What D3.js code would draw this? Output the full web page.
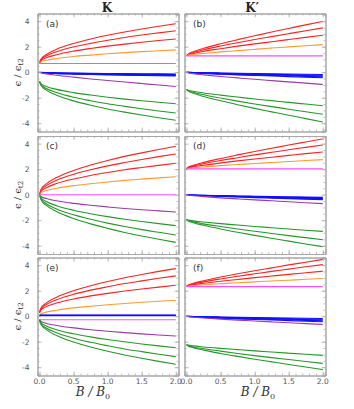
<!DOCTYPE html>
<html>
<head>
<meta charset="utf-8">
<script src="https://cdn.jsdelivr.net/npm/d3@7"></script>
<style>
  body { margin: 0; background: #fff; }
  svg { display: block; }
</style>
</head>
<body>
<div id="chart"></div>
<script>
// magnetic field grid shared by all curves
const bField = [0, 0.02, 0.1, 0.25, 0.5, 0.75, 1, 1.25, 1.5, 1.75, 2];

const xTicks = [0, 0.5, 1, 1.5, 2];
const yTicks = [-4, -2, 0, 2, 4];
const columnTitles = ["K", "K\u2032"];
const panelLabels = ["(a)", "(b)", "(c)", "(d)", "(e)", "(f)"];

// panel (a)
const panelA = {
  red: [
    [0.7, 1.01, 1.39, 1.80, 2.25, 2.60, 2.89, 3.15, 3.38, 3.60, 3.8],
    [0.7, 0.96, 1.27, 1.60, 1.98, 2.26, 2.50, 2.72, 2.91, 3.08, 3.25],
    [0.7, 0.89, 1.13, 1.37, 1.65, 1.86, 2.04, 2.20, 2.35, 2.48, 2.6]
  ],
  orange: [[0.7, 0.81, 0.94, 1.07, 1.23, 1.34, 1.44, 1.53, 1.61, 1.68, 1.75]],
  magenta: [[0.68, 0.68, 0.68, 0.68, 0.68, 0.68, 0.68, 0.68, 0.68, 0.68, 0.68]],
  blue: [
    [0, -0.01, -0.03, -0.05, -0.07, -0.09, -0.10, -0.11, -0.12, -0.13, -0.14],
    [0, -0.02, -0.04, -0.06, -0.09, -0.11, -0.13, -0.14, -0.16, -0.17, -0.18],
    [0, -0.02, -0.05, -0.08, -0.11, -0.13, -0.16, -0.17, -0.19, -0.21, -0.22],
    [0, -0.03, -0.06, -0.09, -0.13, -0.16, -0.18, -0.21, -0.23, -0.24, -0.26],
    [0, -0.03, -0.07, -0.11, -0.15, -0.18, -0.21, -0.24, -0.26, -0.28, -0.3]
  ],
  purple: [[0, -0.05, -0.13, -0.24, -0.39, -0.53, -0.65, -0.77, -0.89, -1.01, -1.12]],
  green: [
    [-0.73, -0.90, -1.12, -1.35, -1.60, -1.79, -1.96, -2.11, -2.24, -2.36, -2.47],
    [-0.73, -0.98, -1.28, -1.60, -1.97, -2.24, -2.48, -2.68, -2.87, -3.04, -3.2],
    [-0.73, -1.03, -1.41, -1.81, -2.25, -2.59, -2.88, -3.13, -3.36, -3.57, -3.77]
  ]
};

// panel (b)
const panelB = {
  red: [
    [1.28, 1.40, 1.60, 1.87, 2.23, 2.55, 2.85, 3.15, 3.43, 3.71, 3.98],
    [1.28, 1.38, 1.54, 1.76, 2.05, 2.31, 2.56, 2.79, 3.02, 3.25, 3.47],
    [1.28, 1.35, 1.47, 1.63, 1.84, 2.04, 2.22, 2.39, 2.56, 2.73, 2.89]
  ],
  orange: [[1.28, 1.32, 1.39, 1.47, 1.59, 1.69, 1.79, 1.89, 1.98, 2.07, 2.16]],
  magenta: [[1.28, 1.28, 1.28, 1.28, 1.28, 1.28, 1.28, 1.28, 1.28, 1.28, 1.28]],
  blue: [
    [0, -0.01, -0.02, -0.04, -0.06, -0.08, -0.10, -0.12, -0.14, -0.16, -0.18],
    [0, -0.01, -0.03, -0.05, -0.08, -0.11, -0.14, -0.17, -0.19, -0.22, -0.24],
    [0, -0.01, -0.04, -0.07, -0.11, -0.14, -0.17, -0.21, -0.24, -0.27, -0.30],
    [0, -0.02, -0.04, -0.08, -0.13, -0.17, -0.22, -0.26, -0.29, -0.33, -0.37],
    [0, -0.02, -0.05, -0.10, -0.15, -0.21, -0.26, -0.30, -0.35, -0.40, -0.44]
  ],
  purple: [[0, -0.04, -0.12, -0.21, -0.34, -0.45, -0.56, -0.66, -0.76, -0.86, -0.96]],
  green: [
    [-1.35, -1.41, -1.50, -1.63, -1.80, -1.95, -2.10, -2.23, -2.37, -2.50, -2.63],
    [-1.35, -1.44, -1.58, -1.77, -2.03, -2.27, -2.49, -2.70, -2.90, -3.10, -3.3],
    [-1.35, -1.47, -1.66, -1.90, -2.24, -2.55, -2.84, -3.11, -3.38, -3.64, -3.9]
  ]
};

// panel (c)
const panelC = {
  red: [
    [0, 0.38, 0.85, 1.34, 1.90, 2.32, 2.68, 3.00, 3.28, 3.54, 3.79],
    [0, 0.32, 0.71, 1.13, 1.60, 1.95, 2.26, 2.52, 2.76, 2.98, 3.19],
    [0, 0.25, 0.55, 0.87, 1.23, 1.51, 1.74, 1.95, 2.13, 2.30, 2.46]
  ],
  orange: [[0, 0.14, 0.32, 0.50, 0.71, 0.86, 1.00, 1.12, 1.22, 1.32, 1.41]],
  magenta: [[0, 0, 0, 0, 0, 0, 0, 0, 0, 0, 0]],
  blue: [],
  purple: [[0, -0.14, -0.30, -0.48, -0.68, -0.83, -0.96, -1.08, -1.18, -1.27, -1.36]],
  green: [
    [0, -0.24, -0.54, -0.86, -1.22, -1.49, -1.72, -1.92, -2.10, -2.27, -2.43],
    [0, -0.32, -0.71, -1.12, -1.58, -1.93, -2.23, -2.50, -2.74, -2.95, -3.16],
    [0, -0.37, -0.84, -1.32, -1.87, -2.29, -2.64, -2.96, -3.24, -3.50, -3.74]
  ]
};

// panel (d)
const panelD = {
  red: [
    [2.02, 2.13, 2.30, 2.53, 2.84, 3.12, 3.39, 3.64, 3.89, 4.13, 4.37],
    [2.02, 2.11, 2.25, 2.43, 2.68, 2.90, 3.12, 3.32, 3.52, 3.71, 3.9],
    [2.02, 2.08, 2.18, 2.31, 2.49, 2.65, 2.80, 2.94, 3.08, 3.22, 3.35]
  ],
  orange: [[2.02, 2.05, 2.11, 2.18, 2.28, 2.36, 2.45, 2.52, 2.60, 2.68, 2.75]],
  magenta: [[2.02, 2.02, 2.02, 2.02, 2.02, 2.02, 2.02, 2.02, 2.02, 2.02, 2.02]],
  blue: [
    [0, -0.01, -0.03, -0.05, -0.07, -0.10, -0.12, -0.15, -0.17, -0.19, -0.21],
    [0, -0.01, -0.03, -0.05, -0.09, -0.12, -0.15, -0.17, -0.20, -0.22, -0.25],
    [0, -0.01, -0.04, -0.07, -0.11, -0.14, -0.17, -0.21, -0.24, -0.27, -0.30],
    [0, -0.02, -0.04, -0.07, -0.12, -0.16, -0.20, -0.23, -0.27, -0.31, -0.34],
    [0, -0.02, -0.05, -0.08, -0.14, -0.18, -0.23, -0.27, -0.31, -0.35, -0.39]
  ],
  purple: [[0, -0.03, -0.08, -0.15, -0.25, -0.33, -0.41, -0.48, -0.56, -0.63, -0.7]],
  green: [
    [-1.94, -1.98, -2.05, -2.14, -2.27, -2.38, -2.49, -2.59, -2.69, -2.79, -2.88],
    [-1.94, -2.01, -2.13, -2.29, -2.50, -2.69, -2.87, -3.04, -3.21, -3.37, -3.53],
    [-1.94, -2.04, -2.20, -2.40, -2.69, -2.95, -3.19, -3.42, -3.64, -3.86, -4.08]
  ]
};

// panel (e)
const panelE = {
  red: [
    [0.27, 0.62, 1.04, 1.49, 2.00, 2.39, 2.72, 3.01, 3.27, 3.51, 3.73],
    [0.27, 0.56, 0.92, 1.29, 1.72, 2.04, 2.31, 2.56, 2.77, 2.97, 3.16],
    [0.27, 0.49, 0.75, 1.03, 1.35, 1.59, 1.79, 1.97, 2.13, 2.28, 2.42]
  ],
  orange: [[0.05, 0.17, 0.32, 0.47, 0.65, 0.78, 0.90, 1.00, 1.09, 1.17, 1.25]],
  magenta: [[-0.28, -0.28, -0.28, -0.28, -0.28, -0.28, -0.28, -0.28, -0.28, -0.28, -0.28]],
  blue: [
    [0.09, 0.09, 0.09, 0.09, 0.09, 0.09, 0.09, 0.09, 0.09, 0.09, 0.09],
    [0.06, 0.06, 0.06, 0.06, 0.06, 0.06, 0.06, 0.06, 0.06, 0.06, 0.06],
    [0.03, 0.03, 0.03, 0.03, 0.03, 0.03, 0.03, 0.03, 0.03, 0.03, 0.03]
  ],
  purple: [[-0.28, -0.41, -0.57, -0.73, -0.92, -1.06, -1.18, -1.29, -1.39, -1.48, -1.56]],
  green: [
    [-0.28, -0.50, -0.77, -1.06, -1.38, -1.62, -1.83, -2.01, -2.18, -2.33, -2.47],
    [-0.28, -0.57, -0.93, -1.30, -1.73, -2.05, -2.32, -2.57, -2.78, -2.98, -3.17],
    [-0.28, -0.63, -1.06, -1.52, -2.03, -2.42, -2.75, -3.04, -3.30, -3.54, -3.77]
  ]
};

// panel (f)
const panelF = {
  red: [
    [2.32, 2.42, 2.58, 2.78, 3.07, 3.32, 3.56, 3.79, 4.02, 4.23, 4.45],
    [2.32, 2.40, 2.53, 2.69, 2.92, 3.13, 3.32, 3.51, 3.69, 3.87, 4.04],
    [2.32, 2.38, 2.46, 2.58, 2.74, 2.88, 3.02, 3.15, 3.28, 3.40, 3.52]
  ],
  orange: [[2.32, 2.35, 2.40, 2.46, 2.54, 2.62, 2.69, 2.76, 2.82, 2.89, 2.95]],
  magenta: [[2.32, 2.32, 2.32, 2.32, 2.32, 2.32, 2.32, 2.32, 2.32, 2.32, 2.32]],
  blue: [
    [0, -0.01, -0.02, -0.04, -0.06, -0.08, -0.10, -0.12, -0.14, -0.16, -0.18],
    [0, -0.01, -0.03, -0.05, -0.08, -0.11, -0.14, -0.17, -0.19, -0.22, -0.24],
    [0, -0.01, -0.04, -0.07, -0.11, -0.14, -0.17, -0.21, -0.24, -0.27, -0.30],
    [0, -0.02, -0.04, -0.08, -0.13, -0.17, -0.22, -0.26, -0.29, -0.33, -0.37],
    [0, -0.02, -0.05, -0.10, -0.15, -0.21, -0.26, -0.30, -0.35, -0.40, -0.44]
  ],
  purple: [[0, -0.03, -0.08, -0.14, -0.23, -0.31, -0.38, -0.45, -0.52, -0.58, -0.65]],
  green: [
    [-2.23, -2.27, -2.33, -2.41, -2.52, -2.62, -2.72, -2.81, -2.90, -2.99, -3.07],
    [-2.23, -2.30, -2.41, -2.55, -2.74, -2.92, -3.09, -3.25, -3.40, -3.55, -3.7],
    [-2.23, -2.32, -2.47, -2.66, -2.92, -3.15, -3.37, -3.58, -3.79, -3.99, -4.19]
  ]
};

const panels = [panelA, panelB, panelC, panelD, panelE, panelF];

// drawing order and colours of each family
const families = ["red", "orange", "magenta", "blue", "purple", "green"];
const colorOf = {
  red: "#ff2020",
  orange: "#ff9a30",
  magenta: "#ff4cff",
  blue: "#1010ff",
  purple: "#9a3aa6",
  green: "#26962a"
};

const width = 354, height = 409;
const colX = [37.5, 184.5];
const panelW = 141;
const rowY = [13.5, 136, 257.5];
const panelH = 118;

const svg = d3.select("#chart").append("svg")
  .attr("width", width)
  .attr("height", height);

const defs = svg.append("defs");
defs.append("clipPath").attr("id", "rightLabels")
  .append("rect").attr("x", 180.5).attr("y", 0).attr("width", 200).attr("height", height);

const frameColor = "#a8a8a8";
const labelColor = "#555";

// column titles
columnTitles.forEach((t, c) => {
  svg.append("text")
    .attr("x", colX[c] + panelW / 2 - (c === 0 ? 1 : 3))
    .attr("y", 11.5)
    .attr("text-anchor", "middle")
    .attr("font-family", "'DejaVu Serif', 'Liberation Serif', serif")
    .attr("font-weight", "bold")
    .attr("font-size", "12px")
    .attr("fill", "#222")
    .text(t);
});

panels.forEach((panel, i) => {
  const c = i % 2, r = Math.floor(i / 2);
  const x = d3.scaleLinear().domain([-0.03, 2.04]).range([colX[c], colX[c] + panelW]);
  const y = d3.scaleLinear().domain([-4.65, 4.6]).range([rowY[r] + panelH, rowY[r]]);

  const g = svg.append("g");

  // curves
  const clipId = "clip" + i;
  defs.append("clipPath").attr("id", clipId)
    .append("rect")
    .attr("x", colX[c]).attr("y", rowY[r])
    .attr("width", panelW).attr("height", panelH);

  const line = d3.line()
    .x((d, k) => x(bField[k]))
    .y(d => y(d))
    .curve(d3.curveMonotoneX);

  const curves = g.append("g").attr("clip-path", `url(#${clipId})`);
  families.forEach(f => {
    curves.selectAll(null)
      .data(panel[f])
      .join("path")
      .attr("d", line)
      .attr("fill", "none")
      .attr("stroke", colorOf[f])
      .attr("stroke-width", 1.1);
  });

  // frame with inward ticks on all sides
  const axB = d3.axisBottom(x).tickValues(d3.range(0, 2.01, 0.1)).tickSize(-2).tickFormat("");
  const axT = d3.axisTop(x).tickValues(d3.range(0, 2.01, 0.1)).tickSize(-2).tickFormat("");
  const axL = d3.axisLeft(y).tickValues(d3.range(-4.5, 4.51, 0.5)).tickSize(-2).tickFormat("");
  const axR = d3.axisRight(y).tickValues(d3.range(-4.5, 4.51, 0.5)).tickSize(-2).tickFormat("");
  const majB = d3.axisBottom(x).tickValues(xTicks).tickSize(-4).tickFormat("");
  const majT = d3.axisTop(x).tickValues(xTicks).tickSize(-4).tickFormat("");
  const majL = d3.axisLeft(y).tickValues(yTicks).tickSize(-4).tickFormat("");
  const majR = d3.axisRight(y).tickValues(yTicks).tickSize(-4).tickFormat("");

  const bottom = y.range()[0], top = y.range()[1];
  const left = x.range()[0], right = x.range()[1];
  [[axB, majB, `translate(0,${bottom})`], [axT, majT, `translate(0,${top})`],
   [axL, majL, `translate(${left},0)`], [axR, majR, `translate(${right},0)`]].forEach(([mn, mj, tr]) => {
    [mn, mj].forEach(a => {
      const ag = g.append("g").attr("transform", tr).call(a);
      ag.selectAll("path").attr("stroke", frameColor).attr("stroke-width", 1);
      ag.selectAll("line").attr("stroke", frameColor).attr("stroke-width", 0.8);
    });
  });

  // y tick labels on left column
  if (c === 0) {
    yTicks.forEach(v => {
      g.append("text")
        .attr("x", left - 8)
        .attr("y", y(v) + 3)
        .attr("text-anchor", "end")
        .attr("font-family", "'DejaVu Sans', sans-serif")
        .attr("font-size", "7.5px")
        .attr("fill", labelColor)
        .text(v < 0 ? "-" + Math.abs(v) : v);
    });
    // y axis title
    const yt = g.append("text")
      .attr("transform", `translate(21,${(top + bottom) / 2}) rotate(-90)`)
      .attr("text-anchor", "middle")
      .attr("font-family", "'DejaVu Serif', 'Liberation Serif', serif")
      .attr("font-size", "10px")
      .attr("fill", "#333");
    yt.append("tspan").text("\u03f5 / \u03f5");
    yt.append("tspan").attr("font-size", "7px").attr("dy", 2).text("t2");
  }

  // x tick labels on bottom row
  if (r === 2) {
    const lg = g.append("g");
    if (c === 1) lg.attr("clip-path", "url(#rightLabels)");
    xTicks.forEach(v => {
      lg.append("text")
        .attr("x", x(v))
        .attr("y", bottom + 8.5)
        .attr("text-anchor", "middle")
        .attr("font-family", "'DejaVu Sans', sans-serif")
        .attr("font-size", "7.5px")
        .attr("fill", labelColor)
        .text(d3.format(".1f")(v));
    });
    const xt = g.append("text")
      .attr("x", c === 0 ? 93 : 258)
      .attr("y", 396)
      .attr("text-anchor", "middle")
      .attr("font-family", "'DejaVu Serif', 'Liberation Serif', serif")
      .attr("font-style", "italic")
      .attr("font-size", "12px")
      .attr("fill", "#333");
    xt.append("tspan").text("B / B");
    xt.append("tspan").attr("font-size", "8px").attr("dy", 2.5).attr("font-style", "normal").text("0");
  }

  // panel label
  g.append("text")
    .attr("x", left + 8.5)
    .attr("y", top + 13)
    .attr("font-family", "'DejaVu Sans', sans-serif")
    .attr("font-size", "9px")
    .attr("fill", "#333")
    .text(panelLabels[i]);
});
</script>
</body>
</html>
